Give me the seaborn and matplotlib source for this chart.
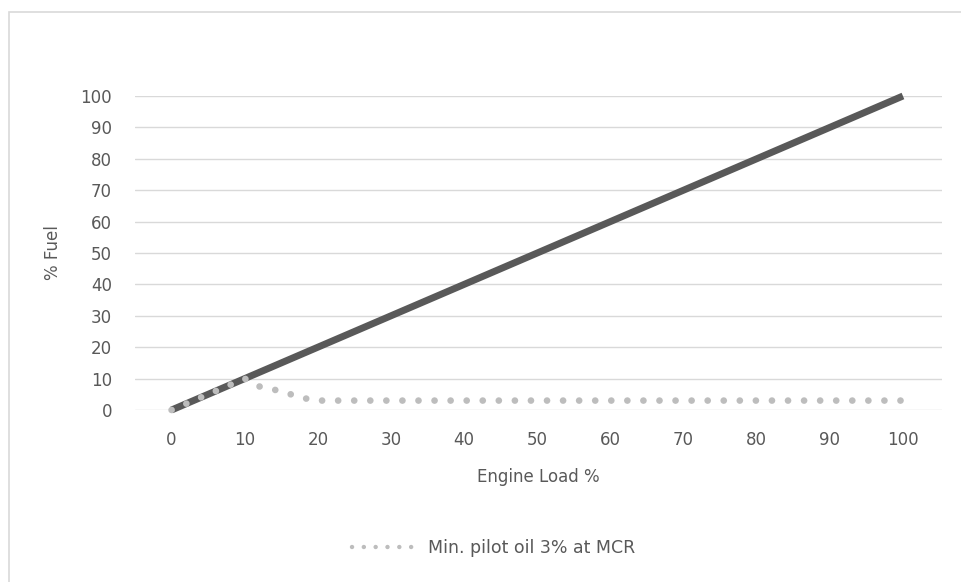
import matplotlib
matplotlib.use("Agg")
import matplotlib.pyplot as plt
import seaborn as sns
import pandas as pd
from matplotlib.patches import Rectangle

# ---- data ----
load_main = [0, 100]
fuel_main = [0, 100]

load_pilot = [0, 10, 12, 14, 16, 18, 20, 30, 40, 50, 60, 70, 80, 90, 100]
fuel_pilot = [0, 10, 7.5, 6.5, 5.2, 3.8, 3, 3, 3, 3, 3, 3, 3, 3, 3]

x_ticks = [0, 10, 20, 30, 40, 50, 60, 70, 80, 90, 100]
y_ticks = [0, 10, 20, 30, 40, 50, 60, 70, 80, 90, 100]

pilot_label = "Min. pilot oil 3% at MCR"
x_label = "Engine Load %"
y_label = "% Fuel"

sns.set_theme(style="white")
plt.rcParams['font.family'] = ['DejaVu Sans']

txt = "#595959"
grid = "#d9d9d9"

fig = plt.figure(figsize=(9.61, 5.82), dpi=100)
ax = fig.add_axes([135/961, 1-410/582, (941.7-135)/961, (410-96)/582])

# gridlines
for v in y_ticks:
    ax.axhline(v, color=grid, lw=1.0, zorder=0)

df_main = pd.DataFrame({"x": load_main, "y": fuel_main})
df_pilot = pd.DataFrame({"x": load_pilot, "y": fuel_pilot})

sns.lineplot(data=df_main, x="x", y="y", ax=ax, color="#595959", lw=5.0,
             label="_nolegend_", solid_capstyle="butt", zorder=3, clip_on=False)
sns.lineplot(data=df_pilot, x="x", y="y", ax=ax, color="#bdbdbd", lw=4.8,
             label=pilot_label, zorder=4, clip_on=False)
line = ax.lines[-1]
line.set_dashes([0.01, 2.4])
line.set_dash_capstyle("round")

ax.set_xlim(-5, 105.3)
ax.set_ylim(0, 100)
ax.set_xticks(x_ticks)
ax.set_yticks(y_ticks)
ax.tick_params(axis="both", length=0, labelsize=12, colors=txt)
ax.tick_params(axis="x", pad=15)
ax.tick_params(axis="y", pad=16.5)
for s in ax.spines.values():
    s.set_visible(False)
ax.set_xlabel(x_label, fontsize=12, color=txt, labelpad=14)
ax.set_ylabel(y_label, fontsize=12, color=txt, labelpad=13)

leg = ax.legend(loc="center", bbox_to_anchor=(0.5135, 0.058),
                bbox_transform=fig.transFigure, frameon=False,
                fontsize=12.5, handlelength=3.6, handletextpad=0.8)
for t in leg.get_texts():
    t.set_color(txt)
for h in leg.get_lines():
    h.set_dashes([0.01, 2.65])
    h.set_dash_capstyle("round")
    h.set_linewidth(3.2)

# outer chart border
fig.patches.append(Rectangle((9/961, -0.1), 1.2, 1.1 - 12/582, transform=fig.transFigure,
                             fill=False, edgecolor="#d9d9d9", lw=1.2, zorder=0))

fig.savefig("out.png", dpi=100)
